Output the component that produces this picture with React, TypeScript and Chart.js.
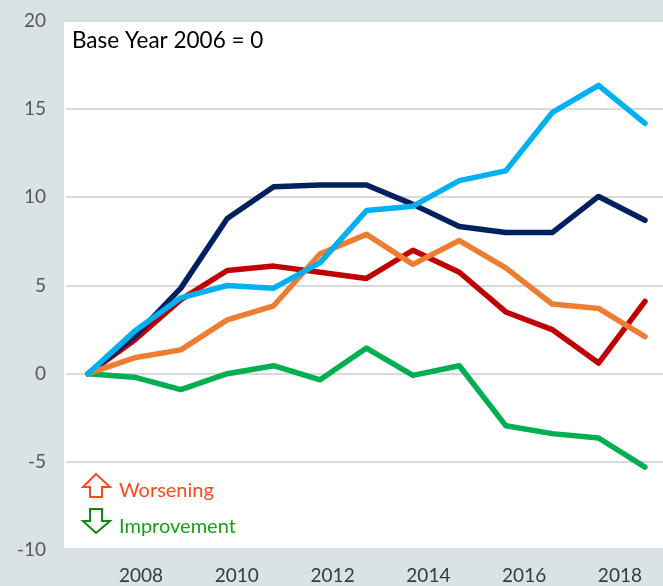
import React, { useEffect, useRef } from "react";
import { Chart, registerables } from "chart.js";

Chart.register(...registerables);

const years = [2006, 2007, 2008, 2009, 2010, 2011, 2012, 2013, 2014, 2015, 2016, 2017, 2018];
const navy = [0, 2.1, 4.85, 8.8, 10.6, 10.7, 10.7, 9.6, 8.35, 8.0, 8.0, 10.05, 8.7];
const red = [0, 1.9, 4.2, 5.85, 6.1, 5.75, 5.4, 7.0, 5.75, 3.5, 2.5, 0.6, 4.1];
const orange = [0, 0.9, 1.35, 3.05, 3.85, 6.8, 7.9, 6.2, 7.55, 6.0, 3.95, 3.7, 2.1];
const green = [0, -0.2, -0.9, 0.0, 0.45, -0.35, 1.45, -0.1, 0.45, -2.95, -3.4, -3.65, -5.3];
const cyan = [0, 2.4, 4.3, 5.0, 4.85, 6.3, 9.25, 9.5, 10.95, 11.5, 14.8, 16.35, 14.2];
const tickYears = [2008, 2010, 2012, 2014, 2016, 2018];

const FONT = "Lato";
const PAGE_BG = "#d9e3e3";

function arrow(ctx: CanvasRenderingContext2D, pts: number[][], color: string) {
  ctx.beginPath();
  pts.forEach(([x, y], i) => (i ? ctx.lineTo(x, y) : ctx.moveTo(x, y)));
  ctx.closePath();
  ctx.lineWidth = 2;
  ctx.lineJoin = "miter";
  ctx.strokeStyle = color;
  ctx.stroke();
}

const decor = {
  id: "decor",
  beforeDraw(chart: any) {
    const { ctx, chartArea: a, width, height } = chart;
    ctx.save();
    ctx.fillStyle = PAGE_BG;
    ctx.fillRect(0, 0, width, height);
    ctx.fillStyle = "#ffffff";
    ctx.fillRect(a.left, a.top, a.right - a.left, 548 - a.top);
    ctx.restore();
  },
  beforeDatasetsDraw(chart: any) {
    const { ctx, chartArea: a } = chart;
    ctx.save();
    ctx.fillStyle = "#ffffff";
    ctx.fillRect(a.left, a.top + 2, 2, 548 - a.top - 2);
    ctx.restore();
  },
  afterDraw(chart: any) {
    const { ctx } = chart;
    ctx.save();
    ctx.textBaseline = "alphabetic";
    ctx.textAlign = "left";
    ctx.font = `22.5px ${FONT}`;
    ctx.fillStyle = "#000000";
    ctx.fillText("Base Year 2006 = 0", 72, 48);
    ctx.font = `20px ${FONT}`;
    ctx.fillStyle = "#fb4a1c";
    ctx.fillText("Worsening", 119, 497);
    ctx.fillStyle = "#18a018";
    ctx.fillText("Improvement", 119, 533);
    arrow(ctx, [[96, 474], [110, 487], [102, 487], [102, 497], [90, 497], [90, 487], [83, 487]], "#fb4a1c");
    arrow(ctx, [[96, 533], [110, 521], [102, 521], [102, 509], [90, 509], [90, 521], [83, 521]], "#0b8a0b");
    ctx.restore();
  },
};

export default function App() {
  const ref = useRef<HTMLCanvasElement>(null);
  useEffect(() => {
    document.body.style.margin = "0";
    document.body.style.background = PAGE_BG;
    const line = (label: string, data: number[], color: string) => ({
      label,
      data,
      xAxisID: "x",
      borderColor: color,
      backgroundColor: color,
      borderWidth: 5.5,
      tension: 0,
      pointRadius: 0,
      borderCapStyle: "round" as const,
      borderJoinStyle: "round" as const,
      clip: false as any,
    });
    const chart = new Chart(ref.current!, {
      type: "line",
      data: {
        labels: years,
        datasets: [
          line("Cyan", cyan, "#00b0f0"),
          line("Orange", orange, "#ed7d31"),
          line("Navy", navy, "#002060"),
          line("Red", red, "#c00000"),
          line("Green", green, "#00b050"),
        ],
      },
      options: {
        animation: false,
        responsive: false,
        layout: { padding: { top: 21, right: 0, left: 0, bottom: 0 } },
        plugins: { legend: { display: false }, tooltip: { enabled: false } },
        scales: {
          x: { type: "linear", display: false, min: 2005.483, max: 2018.388 },
          xLabels: {
            type: "linear",
            position: "bottom",
            min: 2006.39,
            max: 2018.9,
            grid: { display: false },
            border: { display: false },
            afterBuildTicks(scale: any) {
              scale.ticks = tickYears.map((value) => ({ value }));
            },
            afterFit(scale: any) {
              scale.height = 36;
              scale.paddingLeft = 0;
              scale.paddingRight = 0;
            },
            ticks: {
              autoSkip: false,
              maxRotation: 0,
              padding: 6,
              color: "#2f3d40",
              font: { family: FONT, size: 19 },
              callback: (v: any) => String(v),
            },
          },
          y: {
            min: -10,
            max: 20,
            afterFit(scale: any) {
              scale.width = 64;
              scale.paddingTop = 0;
              scale.paddingBottom = 0;
            },
            grid: {
              color: (c: any) => (c.tick && c.tick.value === -10 ? "rgba(0,0,0,0)" : "#d9d9d9"),
              lineWidth: 2,
              drawTicks: false,
            },
            border: { display: false },
            ticks: {
              stepSize: 5,
              padding: 18,
              color: "#595959",
              font: { family: FONT, size: 19 },
            },
          },
        },
      },
      plugins: [decor],
    } as any);
    return () => chart.destroy();
  }, []);
  return <canvas ref={ref} width={663} height={586} style={{ display: "block" }} />;
}
